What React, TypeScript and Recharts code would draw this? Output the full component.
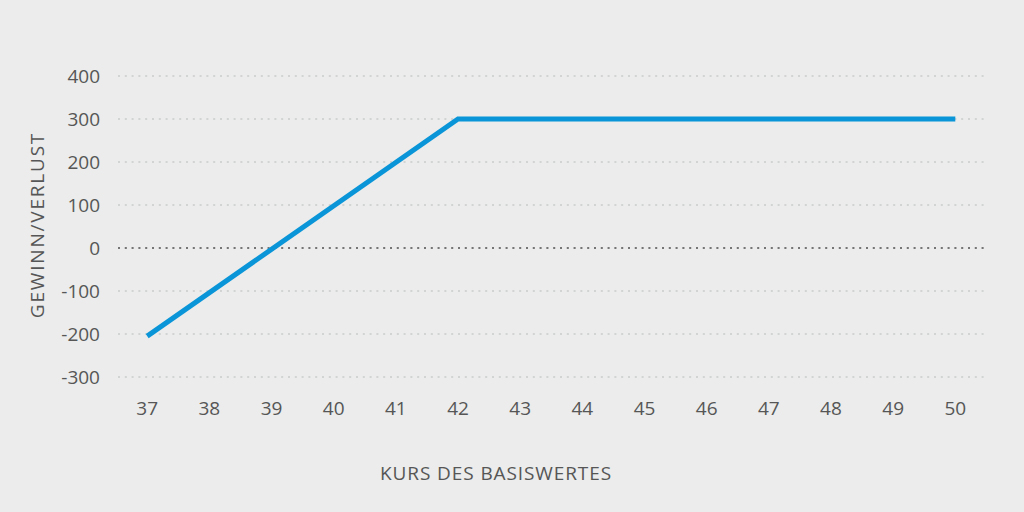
import { LineChart, Line, XAxis, YAxis, CartesianGrid, ReferenceLine, Label } from 'recharts';

const kurs = [37, 42, 43, 44, 45, 46, 47, 48, 49, 50];
const gewinn = [-205, 300, 300, 300, 300, 300, 300, 300, 300, 300];
const xTicks = [37, 38, 39, 40, 41, 42, 43, 44, 45, 46, 47, 48, 49, 50];
const yTicks = [-300, -200, -100, 0, 100, 200, 300, 400];

const chartData = kurs.map((k, i) => ({ kurs: k, gewinn: gewinn[i] }));

const FONT = '"Open Sans", "DejaVu Sans", sans-serif';
const TEXT = '#565656';

export default function App() {
  return (
    <div style={{ position: 'absolute', left: 0, top: 0, width: 1024, height: 512, background: '#ebeceb' }}>
      <LineChart width={1024} height={512} data={chartData} margin={{ top: 76, right: 37, bottom: 0, left: 0 }}>
        <CartesianGrid vertical={false} stroke="#c9cbcb" strokeDasharray="2 4.8" strokeWidth={1.5} />
        <XAxis
          dataKey="kurs"
          type="number"
          domain={[36.53, 50.51]}
          ticks={xTicks}
          axisLine={false}
          tickLine={false}
          height={135}
          tickMargin={19}
          tick={{ fill: TEXT, fontSize: 19, fontFamily: FONT }}
        >
          <Label
            content={() => (
              <text x={496} y={480} textAnchor="middle" fill={TEXT} fontSize={19} letterSpacing={0.9} fontFamily={FONT}>
                KURS DES BASISWERTES
              </text>
            )}
          />
        </XAxis>
        <YAxis
          domain={[-300, 400]}
          ticks={yTicks}
          axisLine={false}
          tickLine={false}
          width={118}
          tickMargin={12}
          tick={{ fill: TEXT, fontSize: 19, fontFamily: FONT }}
        >
          <Label
            content={() => (
              <text
                x={44}
                y={225}
                transform="rotate(-90 44 225)"
                textAnchor="middle"
                fill={TEXT}
                fontSize={19}
                letterSpacing={1.8}
                fontFamily={FONT}
              >
                GEWINN/VERLUST
              </text>
            )}
          />
        </YAxis>
        <ReferenceLine y={0} stroke="#555" strokeDasharray="2 4.8" strokeWidth={1.5} />
        <Line
          type="linear"
          dataKey="gewinn"
          stroke="#0995d8"
          strokeWidth={5}
          dot={false}
          activeDot={false}
          isAnimationActive={false}
        />
      </LineChart>
    </div>
  );
}
